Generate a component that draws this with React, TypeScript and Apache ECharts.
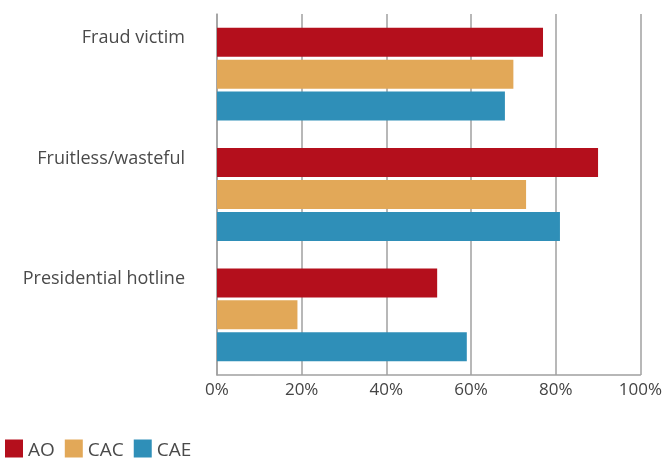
import React, { useEffect, useRef } from "react";
import * as echarts from "echarts";

const categories = ["Fraud victim", "Fruitless/wasteful", "Presidential hotline"];
const seriesNames = ["AO", "CAC", "CAE"];
const aoValues = [77, 90, 52];
const cacValues = [70, 73, 19];
const caeValues = [68, 81, 59];
const colors = ["#b40f1c", "#e2a858", "#2f8fb8"];
const xTicks = { min: 0, max: 100, interval: 20 };

export default function App() {
  const ref = useRef<HTMLDivElement>(null);
  useEffect(() => {
    if (!ref.current) return;
    const chart = echarts.init(ref.current, undefined, { renderer: "svg" });
    const font = "'Open Sans', 'Noto Sans', sans-serif";
    const values = [aoValues, cacValues, caeValues];
    chart.setOption({
      animation: false,
      textStyle: { fontFamily: font },
      grid: { left: 217, right: 24, top: 14, bottom: 85, containLabel: false },
      legend: {
        left: 5,
        top: 439,
        padding: 0,
        itemWidth: 18,
        itemHeight: 18,
        itemGap: 10,
        icon: "rect",
        textStyle: { fontSize: 19, color: "#4a4a4a", fontFamily: font },
        data: seriesNames,
      },
      xAxis: {
        type: "value",
        min: xTicks.min,
        max: xTicks.max,
        interval: xTicks.interval,
        axisLine: { show: true, lineStyle: { color: "#a0a0a0", width: 1.5 } },
        axisTick: { show: false },
        splitLine: { show: true, lineStyle: { color: "#a0a0a0", width: 1.5 } },
        axisLabel: {
          formatter: "{value}%",
          fontSize: 17,
          color: "#444",
          margin: 5,
          fontFamily: font,
        },
      },
      yAxis: {
        type: "category",
        inverse: true,
        data: categories,
        axisLine: { show: true, lineStyle: { color: "#a0a0a0", width: 1.5 } },
        axisTick: { show: false },
        splitLine: { show: false },
        axisLabel: {
          fontSize: 18,
          lineHeight: 19,
          color: "#4a4a4a",
          margin: 32,
          verticalAlign: "middle",
          formatter: (v: string) => v + "\n \n \n \n ",
          fontFamily: font,
        },
      },
      series: seriesNames.map((name, i) => ({
        name,
        type: "bar",
        data: values[i],
        barWidth: 29,
        barGap: "10%",
        itemStyle: { color: colors[i] },
      })),
    });
    return () => chart.dispose();
  }, []);
  return (
    <div
      ref={ref}
      style={{ position: "fixed", left: 0, top: 0, width: 665, height: 460 }}
    />
  );
}
